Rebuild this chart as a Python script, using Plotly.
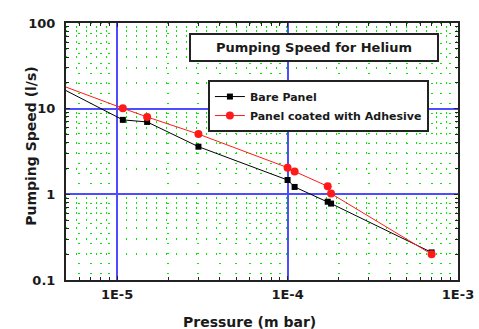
import plotly.graph_objects as go

# Data
pressure = [1.08e-5, 1.5e-5, 3.0e-5, 1.0e-4, 1.1e-4, 1.72e-4, 1.8e-4, 7.0e-4]
bare_panel = [7.4, 7.0, 3.6, 1.47, 1.22, 0.82, 0.78, 0.21]
coated_panel = [10.1, 8.0, 5.05, 2.05, 1.85, 1.24, 1.02, 0.20]
# where the drawn lines meet the left edge of the plot
edge_pressure = 5.0e-6
bare_edge = 16.3
coated_edge = 17.9

x_ticks = [1e-5, 1e-4, 1e-3]
x_ticktext = ["1E-5", "1E-4", "1E-3"]
y_ticks = [0.1, 1, 10, 100]
y_ticktext = ["0.1", "1", "10", "100"]

minor_x = [m * 10.0 ** e for e in (-6, -5, -4) for m in range(2, 10)]
minor_y = [m * 10.0 ** e for e in (-1, 0, 1) for m in range(2, 10)]

FONT = "DejaVu Sans"
BLACK = "#000000"
RED = "#ff1a1a"
TXT = "#1a1a1a"

fig = go.Figure()

# line extensions to the plot edge
fig.add_trace(go.Scatter(x=[edge_pressure, pressure[0]], y=[bare_edge, bare_panel[0]],
                         mode="lines", line=dict(color=BLACK, width=1), showlegend=False,
                         hoverinfo="skip"))
fig.add_trace(go.Scatter(x=[edge_pressure, pressure[0]], y=[coated_edge, coated_panel[0]],
                         mode="lines", line=dict(color=RED, width=1), showlegend=False,
                         hoverinfo="skip"))

fig.add_trace(go.Scatter(x=pressure, y=bare_panel, mode="lines+markers", name="Bare Panel",
                         line=dict(color=BLACK, width=1),
                         marker=dict(symbol="square", size=6, color=BLACK)))
fig.add_trace(go.Scatter(x=pressure, y=coated_panel, mode="lines+markers",
                         name="Panel coated with Adhesive",
                         line=dict(color=RED, width=1),
                         marker=dict(symbol="circle", size=8, color=RED)))

axis_common = dict(
    type="log", automargin=False,
    showline=True, linecolor="#222222", linewidth=2, mirror="ticks",
    ticks="inside", ticklen=4, tickcolor="#222222",
    showgrid=True, gridcolor="#4d4dff", gridwidth=2,
    zeroline=False,
    tickfont=dict(family=FONT, size=13, color=TXT, weight="bold"),
)

fig.update_xaxes(
    **axis_common,
    range=[-5.3, -3.0],
    tickmode="array", tickvals=x_ticks, ticktext=x_ticktext,
    ticklabelstandoff=1,
    minor=dict(tickmode="array", tickvals=minor_x, ticks="inside", ticklen=3,
               tickcolor="#222222", showgrid=True, gridcolor="#00ee00",
               griddash="1px,9px", gridwidth=2),
)
fig.update_yaxes(
    **axis_common,
    range=[-1, 2],
    tickmode="array", tickvals=y_ticks, ticktext=y_ticktext,
    ticklabelstandoff=6,
    minor=dict(tickmode="array", tickvals=minor_y, ticks="inside", ticklen=3,
               tickcolor="#222222", showgrid=True, gridcolor="#00ee00",
               griddash="1px,9px", gridwidth=2),
)

# axis titles
fig.add_annotation(
    text="Pressure (m bar)", xref="paper", yref="paper",
    x=0.467, y=-0.163, xanchor="center", yanchor="middle", showarrow=False,
    font=dict(family=FONT, size=14, color=TXT, weight="bold"),
)
fig.add_annotation(
    text="Pumping Speed (l/s)", xref="paper", yref="paper", textangle=-90,
    x=-0.09, y=0.521, xanchor="center", yanchor="middle", showarrow=False,
    font=dict(family=FONT, size=14, color=TXT, weight="bold"),
)

fig.add_annotation(
    text="Pumping Speed for Helium", xref="paper", yref="paper",
    x=0.632, y=0.905, xanchor="center", yanchor="middle", showarrow=False,
    font=dict(family=FONT, size=13, color=TXT, weight="bold"),
    bgcolor="white", bordercolor="#222222", borderwidth=2, width=244, height=23,
)

fig.update_layout(
    width=479, height=329,
    margin=dict(l=66, r=21, t=23, b=49),
    paper_bgcolor="white", plot_bgcolor="white",
    font=dict(family=FONT),
    legend=dict(x=0.362, y=0.778, xanchor="left", yanchor="top",
                bgcolor="white", bordercolor="#222222", borderwidth=2,
                font=dict(family=FONT, size=11, color=TXT, weight="bold"),
                itemwidth=30, tracegroupgap=0),
    showlegend=True,
)

fig.write_html("out.html")
